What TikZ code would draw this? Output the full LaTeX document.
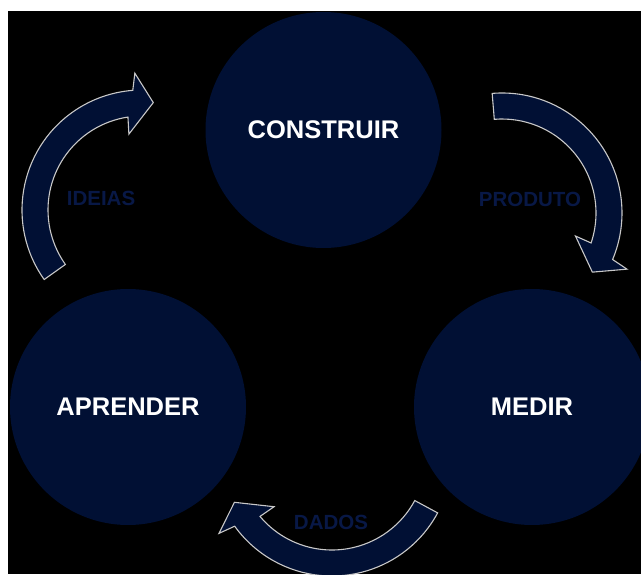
\documentclass[tikz,border=0pt]{standalone}
\usepackage{fontspec}
\setmainfont{Liberation Sans}
\usetikzlibrary{calc}
\definecolor{navy}{RGB}{1,16,52}
\definecolor{labelnavy}{RGB}{8,24,70}
\definecolor{rim}{RGB}{200,200,200}
% curved block arrow: #1 centre, #2 tail angle, #3 tip angle (runs clockwise)
\newcommand\cyclearrow[3]{%
  \draw[arrowbody] ($(#1)+(#2:120)$) arc[start angle=#2, end angle=#3+10.4, radius=120]
    -- ($(#1)+(#3+9:137)$) -- ($(#1)+(#3:108)$) -- ($(#1)+(#3+15.8:77)$)
    -- ($(#1)+(#3+14.6:94)$) arc[start angle=#3+14.6, end angle=#2, radius=94] -- cycle;}
\begin{document}
\begin{tikzpicture}[x=1pt,y=1pt,
  stage/.style={circle, fill=navy, minimum size=236pt, inner sep=0pt,
    text=white, font=\bfseries\fontsize{25.5}{30}\selectfont},
  flowlabel/.style={anchor=base, inner sep=0pt, text=labelnavy,
    font=\bfseries\fontsize{20.5}{24}\selectfont},
  arrowbody/.style={fill=navy, draw=rim, line width=1.1pt, line join=miter}]
  \useasboundingbox (0,0) rectangle (641,574);
  \clip (0,0) rectangle (641,574);
  \fill[white] (0,0) rectangle (641,574);
  \fill[black] (8,0) rectangle (641,563);

  % the three stages of the loop
  \node[stage] (construir) at (323.5,444) {CONSTRUIR};
  \node[stage] (aprender) at (128,167) {APRENDER};
  \node[stage] (medir) at (532,167) {MEDIR};

  % centres of the curved arrows between the stages
  \coordinate (ideiasC) at (142,364);
  \coordinate (produtoC) at (502,361);
  \coordinate (dadosC) at (332,118);

  \cyclearrow{ideiasC}{215.4}{84}
  \cyclearrow{produtoC}{94.7}{-33.2}
  \cyclearrow{dadosC}{-28.3}{-154.6}

  \node[flowlabel] (ideias) at (101,368) {IDEIAS};
  \node[flowlabel] (produto) at (530,367) {PRODUTO};
  \node[flowlabel] (dados) at (331,45) {DADOS};
\end{tikzpicture}
\end{document}
